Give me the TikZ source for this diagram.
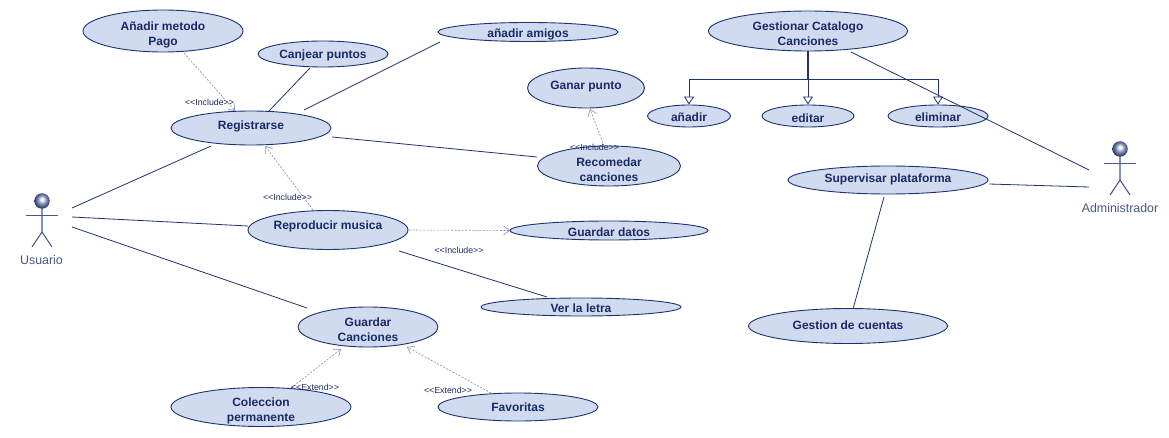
\documentclass[tikz,border=0pt]{standalone}
\usepackage{fontspec}
\usetikzlibrary{shapes.geometric,arrows.meta,calc,shadings}
\newfontfamily\ucfont{Liberation Sans}
\definecolor{ucfill}{HTML}{D0DBEF}
\definecolor{ucline}{HTML}{1C3370}
\definecolor{uctext}{HTML}{1A2A66}
\definecolor{dashcol}{HTML}{7F8DB5}
\definecolor{actcol}{HTML}{44588C}
\definecolor{actlabel}{HTML}{44587F}
\definecolor{ballmid}{HTML}{7F8EB6}
\definecolor{balledge}{HTML}{26365F}
\pgfdeclareradialshading{actorball}{\pgfpoint{0bp}{6bp}}{color(0bp)=(white);color(3bp)=(white);color(14bp)=(ballmid);color(26bp)=(balledge);color(50bp)=(balledge)}
\newcommand\tsh[2]{\raisebox{\dimexpr -4.3pt - #1pt\relax}[0pt][0pt]{\makebox[0pt]{\begin{tabular}{@{}c@{}}#2\end{tabular}}}}
\tikzset{
  x=1pt,y=-1pt,
  uc/.style={ellipse,draw=ucline,line width=0.9pt,fill=ucfill,inner sep=0pt,text=uctext,
    font=\ucfont\bfseries\fontsize{12}{15}\selectfont},
  assoc/.style={draw=ucline,line width=0.8pt},
  dep/.style={draw=dashcol,line width=0.6pt,dash pattern=on 2pt off 1.5pt,-{Straight Barb[length=6pt,width=9pt,line width=0.6pt]}},
  gen/.style={draw=ucline,line width=1pt,-{Triangle[open,fill=white,length=8pt,width=10pt,line width=0.8pt]}},
  stem/.style={draw=ucline,line width=2pt},
  tag/.style={inner sep=0pt,text=uctext,font=\ucfont\fontsize{8.8}{10}\selectfont},
  actorname/.style={inner sep=0pt,text=actlabel,font=\ucfont\fontsize{12.4}{14}\selectfont},
  limb/.style={draw=actcol,line width=1.1pt},
  headball/.style={circle,inner sep=0pt,minimum size=15.5pt,shading=actorball},
  anchorbox/.style={inner sep=0pt,minimum size=0pt},
}
\begin{document}
\begin{tikzpicture}
\useasboundingbox (0,0) rectangle (1169,438);
% use cases
\node[uc,minimum width=160pt,minimum height=42pt] (pago) at (163,31) {\tsh{2.5}{Añadir metodo\\Pago}};
\node[uc,minimum width=130pt,minimum height=26pt] (canjear) at (323,54) {\tsh{0}{Canjear puntos}};
\node[uc,minimum width=180pt,minimum height=19pt] (amigos) at (528,32) {\tsh{1}{añadir amigos}};
\node[uc,minimum width=199pt,minimum height=40pt] (gest) at (808,31) {\tsh{2.5}{Gestionar Catalogo\\Canciones}};
\node[uc,minimum width=83pt,minimum height=22pt] (anadir) at (689,116) {\tsh{1}{añadir}};
\node[uc,minimum width=92pt,minimum height=22pt] (editar) at (808,116) {\tsh{2}{editar}};
\node[uc,minimum width=100pt,minimum height=22pt] (eliminar) at (938,116) {\tsh{1}{eliminar}};
\node[uc,minimum width=160pt,minimum height=34pt] (reg) at (251,128) {\tsh{-3}{Registrarse}};
\node[uc,minimum width=117pt,minimum height=40pt] (ganar) at (586,88) {\tsh{-3}{Ganar punto}};
\node[uc,minimum width=143pt,minimum height=40pt] (recom) at (609,166) {\tsh{3.5}{Recomedar\\canciones}};
\node[uc,minimum width=160pt,minimum height=39pt] (repro) at (328,230) {\tsh{-5}{Reproducir musica}};
\node[uc,minimum width=198pt,minimum height=19pt] (datos) at (609,230.5) {\tsh{1.5}{Guardar datos}};
\node[uc,minimum width=200pt,minimum height=28pt] (superv) at (888,180) {\tsh{-2}{Supervisar plataforma}};
\node[uc,minimum width=200pt,minimum height=18pt] (letra) at (581,307) {\tsh{1}{Ver la letra}};
\node[uc,minimum width=199pt,minimum height=35pt] (cuentas) at (848,326) {\tsh{-1}{Gestion de cuentas}};
\node[uc,minimum width=140pt,minimum height=40pt] (guardar) at (368,327) {\tsh{2.5}{Guardar\\Canciones}};
\node[uc,minimum width=180pt,minimum height=39pt] (colec) at (261,407) {\tsh{2.5}{Coleccion\\permanente}};
\node[uc,minimum width=160pt,minimum height=28pt] (fav) at (518,407) {\tsh{0}{Favoritas}};
% actors
\node[anchorbox] (usuario) at (42,220) {};
\draw[limb] ($(usuario)+(0,-12)$) -- ($(usuario)+(0,12)$) -- ($(usuario)+(-10,27)$);
\draw[limb] ($(usuario)+(0,12)$) -- ($(usuario)+(10,27)$);
\draw[limb,line width=0.8pt] ($(usuario)+(-16,-5)$) -- ($(usuario)+(16,-5)$);
\node[headball] (usuhead) at (42,201) {};
\node[actorname] (usuname) at (41.5,260) {Usuario};
\node[anchorbox] (admin) at (1120,168) {};
\draw[limb] ($(admin)+(0,-12)$) -- ($(admin)+(0,12)$) -- ($(admin)+(-10,27)$);
\draw[limb] ($(admin)+(0,12)$) -- ($(admin)+(10,27)$);
\draw[limb,line width=0.8pt] ($(admin)+(-16,-5)$) -- ($(admin)+(16,-5)$);
\node[headball] (admhead) at (1120,149) {};
\node[actorname] (admname) at (1120,208) {Administrador};
% associations
\draw[assoc] ($(usuario)+(30,-12)$) -- ($(reg)+(-40,18)$);
\draw[assoc] ($(usuario)+(30,-3)$) -- ($(repro)+(-80,-4)$);
\draw[assoc] ($(usuario)+(30,7)$) -- ($(guardar)+(-61,-19)$);
\draw[assoc] ($(canjear)+(-13,14)$) -- ($(reg)+(18,-17)$);
\draw[assoc] ($(amigos)+(-88,10)$) -- ($(reg)+(53,-18)$);
\draw[assoc] ($(reg)+(81,9)$) -- ($(recom)+(-72,-9)$);
\draw[assoc] ($(repro)+(71,21)$) -- ($(letra)+(-34,-10)$);
\draw[assoc] ($(gest)+(43,21)$) -- ($(admin)+(-31,2)$);
\draw[assoc] ($(superv)+(101,4)$) -- ($(admin)+(-31,19)$);
\draw[assoc] ($(superv)+(-4,17)$) -- ($(cuentas)+(5,-17)$);
% generalisations
\draw[stem] (gest.south) -- ++(0,28);
\draw[gen] (gest.south) ++(0,28) -| (anadir.north);
\draw[gen] (gest.south) -- (editar.north);
\draw[gen] (gest.south) ++(0,28) -| (eliminar.north);
% dependencies
\draw[dep] ($(pago)+(21,22)$) -- ($(reg)+(-16,-17)$);
\draw[dep] ($(repro)+(-15,-20)$) -- ($(reg)+(14,18)$);
\draw[dep] ($(recom)+(-5,-20)$) -- ($(ganar)+(4,21)$);
\draw[dep] ($(repro)+(81,0)$) -- ($(datos)+(-99,0)$);
\draw[dep] ($(colec)+(30,-19)$) -- ($(guardar)+(-27,22)$);
\draw[dep] ($(fav)+(-27,-14)$) -- ($(guardar)+(39,20)$);
% stereotypes
\node[tag] (t1) at (209.5,102) {<<Include>>};
\node[tag] (t2) at (287.5,197) {<<Include>>};
\node[tag] (t3) at (594.5,147) {<<Include>>};
\node[tag] (t4) at (459,250) {<<Include>>};
\node[tag] (t5) at (315,387) {<<Extend>>};
\node[tag] (t6) at (448,390) {<<Extend>>};
\end{tikzpicture}
\end{document}
